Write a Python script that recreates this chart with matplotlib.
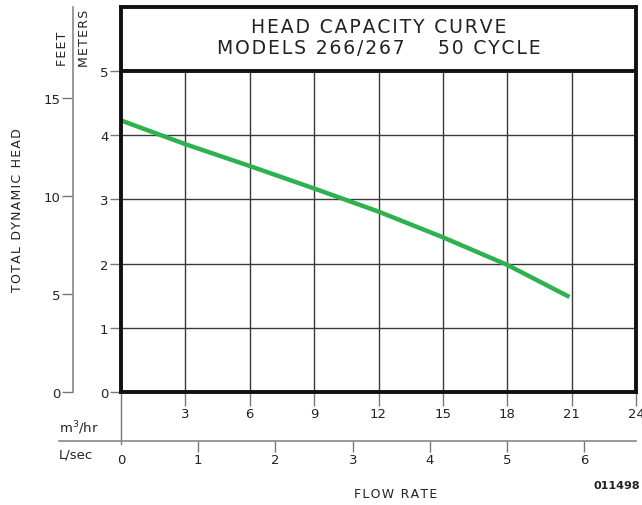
import matplotlib
matplotlib.use("agg")
import matplotlib.pyplot as plt

# head capacity data (flow in m3/hr, head in meters)
flow_m3hr = [0, 3, 6, 9, 12, 15, 18, 20.9]
head_m = [4.23, 3.86, 3.52, 3.17, 2.81, 2.41, 1.98, 1.48]

m3hr_ticks = [3, 6, 9, 12, 15, 18, 21, 24]
meter_ticks = [0, 1, 2, 3, 4, 5]
feet_ticks = [0, 5, 10, 15]
lsec_ticks = [0, 1, 2, 3, 4, 5, 6]

title_lines = ["HEAD CAPACITY CURVE", "MODELS 266/267    50 CYCLE"]

M_PER_FT = 0.3048
M3HR_PER_LSEC = 3.6

W, H = 642, 506
plt.rcParams['font.family'] = ['DejaVu Sans']
fig = plt.figure(figsize=(W / 100, H / 100), dpi=100)


def fx(px):
    return px / W


def fy(py):
    return 1 - py / H


def spaced(s):
    # drafting-style letter spacing using hair spaces
    return "\u200a".join(s)


txt_c = "#222222"
x_left, x_right = 121, 636
y_bot, y_top = 393, 7.8
ymax = 6.0
ax = fig.add_axes([fx(x_left), fy(y_bot), fx(x_right - x_left), (y_bot - y_top) / H])
ax.set_xlim(0, 24)
ax.set_ylim(0, ymax)

grid_c = "#3a3a3a"
for x in m3hr_ticks[:-1]:
    ax.plot([x, x], [0, 5], color=grid_c, lw=1.0, zorder=1)
for y in meter_ticks[1:-1]:
    ax.plot([0, 24], [y, y], color=grid_c, lw=1.0, zorder=1)
ax.plot([0, 24], [5, 5], color="#111111", lw=2.8, zorder=3)

ax.plot(flow_m3hr, head_m, color="#2eb24f", lw=3.2, solid_capstyle="butt", zorder=4)

for s in ax.spines.values():
    s.set_linewidth(2.8)
    s.set_color("#111111")
    s.set_zorder(5)

ax.set_yticks(meter_ticks)
ax.set_yticklabels([str(t) for t in meter_ticks])
ax.set_xticks(m3hr_ticks)
ax.set_xticklabels([str(t) for t in m3hr_ticks])
ax.tick_params(axis="both", direction="out", length=8, width=1.0, color="#777777",
               labelsize=9.5, labelcolor=txt_c, pad=2)
ax.tick_params(axis="y", pad=1)
ax.tick_params(axis="x", length=10, pad=1)

# vertical line from origin down to the L/sec scale
ax.plot([0, 0], [0, -0.81], color="#777777", lw=1.0, clip_on=False)

for i, line in enumerate(title_lines):
    ax.text(12, 5.69 - i * 0.33, spaced(line), ha="center", va="center", fontsize=13.5,
            color=txt_c)

# feet scale
axf = fig.add_axes([fx(73), fy(y_bot), 0.001, (y_bot - y_top) / H])
axf.set_ylim(0, ymax / M_PER_FT)
axf.set_xticks([])
axf.set_yticks(feet_ticks)
for side in ["top", "right", "bottom"]:
    axf.spines[side].set_visible(False)
axf.spines["left"].set_color("#888888")
axf.spines["left"].set_linewidth(1.2)
axf.tick_params(axis="y", direction="out", length=8, width=1.0, color="#777777",
                labelsize=9.5, labelcolor=txt_c, pad=1)
axf.patch.set_visible(False)

# L/sec scale
lsec_left = -(x_left - 59) / 21.46 / M3HR_PER_LSEC
axl = fig.add_axes([fx(59), fy(442), fx(x_right - 59), 0.0005])
axl.set_xlim(lsec_left, 24 / M3HR_PER_LSEC)
axl.set_yticks([])
axl.set_xticks(lsec_ticks)
for side in ["top", "right", "left"]:
    axl.spines[side].set_visible(False)
axl.spines["bottom"].set_color("#888888")
axl.spines["bottom"].set_linewidth(1.2)
axl.tick_params(axis="x", direction="out", length=8, width=1.0, color="#777777",
                labelsize=9.5, labelcolor=txt_c, pad=1)
axl.get_xticklines()[0].set_visible(False)
axl.patch.set_visible(False)

fig.text(fx(59), fy(428), "m$^3$/hr", fontsize=9.5, color=txt_c, va="center")
fig.text(fx(59), fy(455), "L/sec", fontsize=9.5, color=txt_c, va="center")
fig.text(fx(396), fy(495), spaced("FLOW RATE"), fontsize=9, color=txt_c,
         ha="center", va="center")
fig.text(fx(640), fy(486), "011498", fontsize=8, color=txt_c, ha="right", va="center",
         fontweight="bold")
fig.text(fx(18), fy(210), spaced("TOTAL DYNAMIC HEAD"), fontsize=9, color=txt_c,
         rotation=90, ha="center", va="center")
fig.text(fx(62), fy(49), spaced("FEET"), fontsize=9, color=txt_c, rotation=90,
         ha="center", va="center")
fig.text(fx(85), fy(38.5), spaced("METERS"), fontsize=9, color=txt_c, rotation=90,
         ha="center", va="center")

fig.savefig("out.png", dpi=100)
